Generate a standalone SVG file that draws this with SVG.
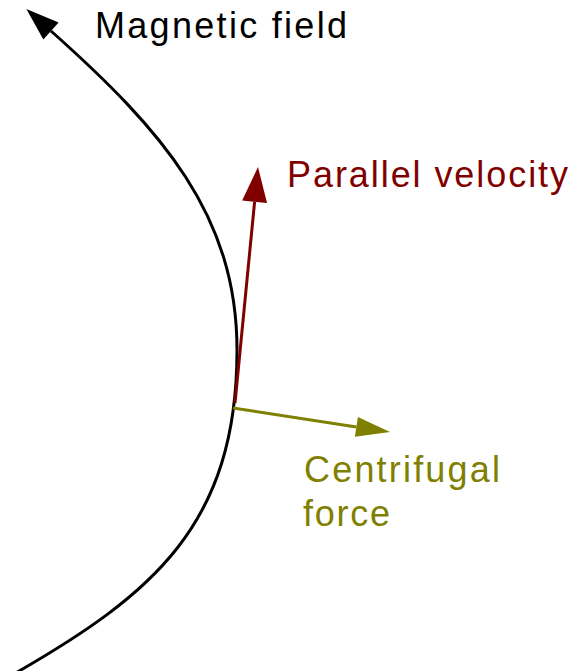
<svg xmlns="http://www.w3.org/2000/svg" width="580" height="671" viewBox="0 0 580 671">
<style>
  .lbl { font-family: "Liberation Sans", Arial, sans-serif; font-size: 36px; }
  .conn { fill: none; stroke-width: 3; }
</style>
<defs>
  <marker id="headBlack" markerUnits="userSpaceOnUse" orient="auto" overflow="visible" markerWidth="40" markerHeight="30" refX="0" refY="0">
    <path d="M0,-11.5 L33,0 L0,11.5 Z" fill="#000000"/>
  </marker>
  <marker id="headRed" markerUnits="userSpaceOnUse" orient="auto" overflow="visible" markerWidth="40" markerHeight="30" refX="0" refY="0">
    <path d="M0,-12.5 L35,0 L0,12.5 Z" fill="#800000"/>
  </marker>
  <marker id="headOlive" markerUnits="userSpaceOnUse" orient="auto" overflow="visible" markerWidth="40" markerHeight="30" refX="0" refY="0">
    <path d="M0,-10 L34,0 L0,10 Z" fill="#808000"/>
  </marker>
</defs>
<rect width="580" height="671" fill="#ffffff"/>
<g id="connectors">
  <path id="field-line" class="conn" stroke="#000000" marker-end="url(#headBlack)"
    d="M14,674 C152.7,594.3 237,525 237,350 C237,215 162,130 51,31"/>
  <path id="parallel-velocity" class="conn" stroke="#800000" marker-end="url(#headRed)" d="M235,403 L254.6,201.8"/>
  <path id="centrifugal-force" class="conn" stroke="#808000" marker-end="url(#headOlive)" d="M233,408 L356.4,426.9"/>
</g>
<g id="label-magnetic-field">
  <text class="lbl" x="95" y="38" fill="#000000" textLength="252" lengthAdjust="spacing">Magnetic field</text>
</g>
<g id="label-parallel-velocity">
  <text class="lbl" x="287" y="187" fill="#800000" textLength="281" lengthAdjust="spacing">Parallel velocity</text>
</g>
<g id="label-centrifugal-force">
  <text class="lbl" x="304" y="482" fill="#808000" textLength="196" lengthAdjust="spacing">Centrifugal</text>
  <text class="lbl" x="303" y="526" fill="#808000" textLength="87" lengthAdjust="spacing">force</text>
</g>
</svg>
